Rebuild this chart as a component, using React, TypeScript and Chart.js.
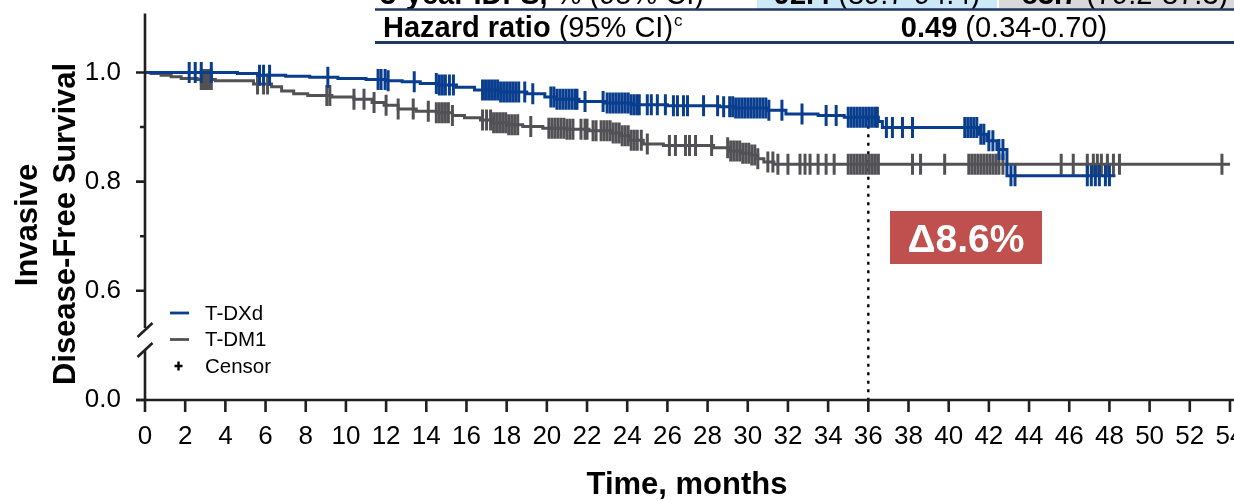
import React, { useEffect, useRef } from "react";
import { Chart, registerables } from "chart.js";

Chart.register(...registerables);

const FONT = "'Liberation Sans', Arial, Helvetica, sans-serif";
const BLUE = "#093d8d";
const GRAY = "#525256";
const AXIS = "#231f20";
const RED = "#c0504d";
const NAVY = "#1f3864";

// ---- data ----
const xTicks = [0, 2, 4, 6, 8, 10, 12, 14, 16, 18, 20, 22, 24, 26, 28, 30, 32, 34, 36, 38, 40, 42, 44, 46, 48, 50, 52, 54];
const yMajorTicks = [0.0, 0.6, 0.8, 1.0];
const yMinorTicks = [0.7, 0.9];

const tdxdTimes = [0, 4.6, 5.6, 7.0, 8.2, 9.6, 11.0, 12.0, 12.8, 13.7, 14.6, 15.5, 16.4, 17.6, 19.0, 19.9, 20.4, 21.6, 22.9, 24.2, 26.0, 28.6, 29.4, 31.0, 31.9, 33.5, 34.8, 36.5, 36.7, 41.5, 41.9, 42.4, 42.9, 48.3];
const tdxdSurv = [1.0, 0.998, 0.995, 0.993, 0.991, 0.989, 0.987, 0.985, 0.983, 0.98, 0.977, 0.973, 0.968, 0.964, 0.961, 0.955, 0.951, 0.947, 0.944, 0.941, 0.939, 0.937, 0.935, 0.931, 0.924, 0.921, 0.918, 0.91, 0.899, 0.887, 0.875, 0.859, 0.811, 0.811];

const tdm1Times = [0, 0.3, 0.8, 1.3, 1.8, 2.6, 3.5, 5.4, 6.3, 6.8, 7.4, 8.1, 9.3, 10.4, 11.3, 11.9, 12.6, 13.5, 14.5, 15.3, 15.9, 16.7, 17.3, 18.0, 18.8, 19.8, 21.0, 22.1, 23.2, 23.7, 24.1, 24.8, 25.8, 28.3, 29.1, 29.7, 30.1, 30.5, 30.8, 31.3, 54.0];
const tdm1Surv = [1.0, 0.998, 0.995, 0.992, 0.989, 0.987, 0.985, 0.979, 0.974, 0.966, 0.961, 0.958, 0.955, 0.951, 0.945, 0.94, 0.933, 0.929, 0.926, 0.921, 0.917, 0.913, 0.908, 0.904, 0.901, 0.898, 0.896, 0.893, 0.889, 0.884, 0.876, 0.869, 0.866, 0.862, 0.856, 0.852, 0.849, 0.842, 0.836, 0.832, 0.832];

const tdxdCensorTimes = [2.2, 2.5, 2.8, 3.3, 5.7, 5.9, 6.2, 9.1, 11.6, 11.75, 11.95, 12.1, 13.4, 14.5, 14.65, 14.8, 14.95, 15.15, 15.35, 16.8, 16.95, 17.1, 17.25, 17.4, 17.55, 17.7, 17.85, 18.0, 18.15, 18.3, 18.45, 18.6, 18.9, 19.3, 20.2, 20.35, 20.5, 20.65, 20.8, 20.95, 21.1, 21.25, 21.4, 21.5, 21.9, 22.8, 23.0, 23.15, 23.3, 23.45, 23.6, 23.75, 23.9, 24.05, 24.2, 24.35, 24.5, 24.6, 25.0, 25.2, 25.5, 25.9, 26.3, 26.5, 26.8, 27.0, 27.8, 28.5, 28.8, 29.1, 29.25, 29.4, 29.55, 29.7, 29.85, 30.0, 30.15, 30.3, 30.45, 30.6, 30.75, 30.9, 31.05, 31.7, 32.7, 33.9, 34.4, 35.0, 35.15, 35.3, 35.45, 35.6, 35.75, 35.9, 36.05, 36.2, 36.35, 36.45, 36.9, 37.2, 37.7, 38.2, 40.8, 40.95, 41.1, 41.25, 41.4, 41.6, 41.75, 42.0, 42.2, 42.5, 42.7, 43.1, 43.3, 46.9, 47.1, 47.3, 47.5, 47.8, 48.0];

const tdm1CensorTimes = [2.8, 2.9, 3.0, 3.1, 3.2, 3.3, 5.6, 5.9, 6.1, 9.05, 9.2, 10.4, 10.9, 11.4, 12.0, 12.6, 13.35, 14.1, 14.5, 14.65, 14.8, 14.95, 15.1, 15.3, 16.8, 17.0, 17.2, 17.35, 17.5, 17.65, 17.8, 17.95, 18.1, 18.25, 18.4, 18.55, 19.2, 20.1, 20.25, 20.4, 20.55, 20.7, 20.85, 21.0, 21.15, 21.3, 21.7, 21.9, 22.0, 22.3, 22.45, 22.7, 22.85, 23.0, 23.15, 23.3, 23.45, 23.6, 23.75, 23.9, 24.05, 24.2, 24.35, 24.5, 24.7, 25.0, 26.1, 26.4, 26.9, 27.1, 27.4, 28.2, 29.0, 29.15, 29.3, 29.45, 29.6, 29.75, 29.9, 30.05, 30.2, 30.35, 30.5, 31.0, 31.25, 31.5, 32.0, 32.6, 32.85, 33.1, 33.5, 33.9, 34.3, 35.0, 35.15, 35.3, 35.45, 35.6, 35.75, 35.9, 36.05, 36.2, 36.35, 36.5, 38.2, 38.6, 39.8, 41.0, 41.15, 41.3, 41.45, 41.6, 41.75, 41.9, 42.05, 42.2, 42.35, 42.5, 42.7, 45.6, 46.2, 46.9, 47.2, 47.4, 47.6, 47.9, 48.2, 48.5, 53.6];

const landmarkMonth = 36;
const deltaLabel = "\u03948.6%";
const seriesNames = ["T-DXd", "T-DM1"];
const censorName = "Censor";
const xTitle = "Time, months";
const yTitleLines = ["Invasive", "Disease-Free Survival"];
const tableRow1 = { boldLabel: "3-year IDFS,", label: " % (95% CI)", v1: ["92.4", " (89.7-94.4)"], v2: ["83.7", " (79.2-87.3)"] };
const tableRow2 = { boldLabel: "Hazard ratio", label: " (95% CI)", sup: "c", value: ["0.49", " (0.34-0.70)"] };

// ---- helpers ----
const X_MAX = 54.3;
const Y_MIN = 0.4;
const Y_MAX = 1.108;
const toAxis = (v: number) => (v < 0.5 ? v + 0.4 : v);

function survAt(times: number[], surv: number[], t: number) {
  let s = surv[0];
  for (let i = 0; i < times.length; i++) {
    if (times[i] <= t) s = surv[i];
    else break;
  }
  return s;
}

const curvePoints = (times: number[], surv: number[]) => times.map((t, i) => ({ x: t, y: toAxis(surv[i]) }));
const censorPoints = (ct: number[], times: number[], surv: number[]) =>
  ct.map((t) => ({ x: t, y: toAxis(survAt(times, surv, t)) }));

const zeroPad = (s: any) => {
  s.paddingTop = 0;
  s.paddingBottom = 0;
  s.paddingLeft = 0;
  s.paddingRight = 0;
};

const decorPlugin = {
  id: "decor",
  beforeDatasetsDraw(chart: any) {
    const { ctx, scales } = chart;
    const xs = scales.x, ys = scales.y;
    const x = xs.getPixelForValue(landmarkMonth);
    const yTop = ys.getPixelForValue(toAxis(survAt(tdxdTimes, tdxdSurv, landmarkMonth)));
    ctx.save();
    ctx.strokeStyle = "#000";
    ctx.lineWidth = 2.4;
    ctx.setLineDash([3, 5.5]);
    ctx.beginPath();
    ctx.moveTo(x, yTop);
    ctx.lineTo(x, ys.bottom);
    ctx.stroke();
    ctx.restore();
  },
  afterDraw(chart: any) {
    const { ctx, scales, chartArea } = chart;
    const xs = scales.x, ys = scales.y;
    const left = chartArea.left, bottom = chartArea.bottom, top = chartArea.top;
    ctx.save();
    ctx.strokeStyle = AXIS;
    ctx.lineWidth = 2.6;
    ctx.lineCap = "butt";
    // y axis with break
    const breakTop = 328, breakBottom = 350;
    ctx.beginPath();
    ctx.moveTo(left, top);
    ctx.lineTo(left, breakTop);
    ctx.moveTo(left, breakBottom);
    ctx.lineTo(left, bottom);
    ctx.stroke();
    // break slashes
    ctx.beginPath();
    ctx.moveTo(left - 7.5, breakTop + 9);
    ctx.lineTo(left + 7.5, breakTop - 5);
    ctx.moveTo(left - 7.5, breakBottom + 7);
    ctx.lineTo(left + 7.5, breakBottom - 7);
    ctx.stroke();
    // x axis
    ctx.beginPath();
    ctx.moveTo(left - 9, bottom);
    ctx.lineTo(chart.width, bottom);
    ctx.stroke();
    // y ticks
    ctx.beginPath();
    yMajorTicks.forEach((v) => {
      const y = ys.getPixelForValue(toAxis(v));
      ctx.moveTo(left - 9, y);
      ctx.lineTo(left, y);
    });
    yMinorTicks.forEach((v) => {
      const y = ys.getPixelForValue(toAxis(v));
      ctx.moveTo(left - 5, y);
      ctx.lineTo(left, y);
    });
    // x ticks
    xTicks.forEach((v) => {
      const x = xs.getPixelForValue(v);
      ctx.moveTo(x, bottom);
      ctx.lineTo(x, bottom + 12);
    });
    ctx.stroke();

    // axis titles
    ctx.fillStyle = "#000";
    ctx.font = `bold 31px ${FONT}`;
    ctx.textAlign = "center";
    ctx.textBaseline = "alphabetic";
    ctx.fillText(xTitle, 687, 494);
    ctx.save();
    ctx.translate(37, 225);
    ctx.rotate(-Math.PI / 2);
    ctx.fillText(yTitleLines[0], 0, 0);
    ctx.restore();
    ctx.save();
    ctx.translate(75, 224);
    ctx.rotate(-Math.PI / 2);
    ctx.fillText(yTitleLines[1], 0, 0);
    ctx.restore();

    // legend
    ctx.font = `20.5px ${FONT}`;
    ctx.textAlign = "left";
    ctx.textBaseline = "middle";
    ctx.lineWidth = 2.8;
    [BLUE, GRAY].forEach((c, i) => {
      const y = 313 + i * 26.5;
      ctx.strokeStyle = c;
      ctx.beginPath();
      ctx.moveTo(170, y);
      ctx.lineTo(189, y);
      ctx.stroke();
      ctx.fillStyle = "#000";
      ctx.fillText(seriesNames[i], 205, y + 1);
    });
    ctx.strokeStyle = "#000";
    ctx.lineWidth = 2.4;
    ctx.beginPath();
    ctx.moveTo(178.5, 361.5);
    ctx.lineTo(178.5, 370.5);
    ctx.moveTo(174.5, 366);
    ctx.lineTo(182.5, 366);
    ctx.stroke();
    ctx.fillText(censorName, 205, 367);

    // delta box
    ctx.fillStyle = RED;
    ctx.fillRect(890, 211, 152, 53);
    ctx.fillStyle = "#fff";
    ctx.font = `bold 39px ${FONT}`;
    ctx.textAlign = "center";
    ctx.textBaseline = "alphabetic";
    ctx.fillText(deltaLabel, 966, 252);

    // table (cropped at top)
    ctx.fillStyle = "#cde8f6";
    ctx.fillRect(757, 0, 240, 9);
    ctx.fillStyle = "#d9d9d9";
    ctx.fillRect(999, 0, 260, 9);
    const drawRich = (parts: [string, boolean, number][], x: number, y: number, align: string) => {
      let total = 0;
      parts.forEach(([t, b, s]) => {
        ctx.font = `${b ? "bold " : ""}${s}px ${FONT}`;
        total += ctx.measureText(t).width;
      });
      let cx = align === "center" ? x - total / 2 : x;
      ctx.textAlign = "left";
      parts.forEach(([t, b, s]) => {
        ctx.font = `${b ? "bold " : ""}${s}px ${FONT}`;
        ctx.fillText(t, cx, y);
        cx += ctx.measureText(t).width;
      });
      return cx;
    };
    ctx.fillStyle = "#000";
    ctx.textBaseline = "alphabetic";
    drawRich([[tableRow1.boldLabel, true, 29], [tableRow1.label, false, 29]], 380, 4, "left");
    drawRich([[tableRow1.v1[0], true, 29], [tableRow1.v1[1], false, 29]], 877, 4, "center");
    drawRich([[tableRow1.v2[0], true, 29], [tableRow1.v2[1], false, 29]], 1125, 4, "center");
    ctx.strokeStyle = NAVY;
    ctx.lineWidth = 2.4;
    ctx.beginPath();
    ctx.moveTo(375, 9.5);
    ctx.lineTo(chart.width, 9.5);
    ctx.stroke();
    const endX = drawRich([[tableRow2.boldLabel, true, 29], [tableRow2.label, false, 29]], 383, 37, "left");
    ctx.font = `17px ${FONT}`;
    ctx.fillText(tableRow2.sup, endX + 1, 26);
    drawRich([[tableRow2.value[0], true, 29], [tableRow2.value[1], false, 29]], 1004, 37, "center");
    ctx.lineWidth = 3;
    ctx.beginPath();
    ctx.moveTo(375, 42.5);
    ctx.lineTo(chart.width, 42.5);
    ctx.stroke();
    ctx.restore();
  },
};

export default function App() {
  const ref = useRef<HTMLCanvasElement | null>(null);
  useEffect(() => {
    if (!ref.current) return;
    const chart = new Chart(ref.current, {
      type: "line",
      data: {
        datasets: [
          {
            label: seriesNames[0],
            data: curvePoints(tdxdTimes, tdxdSurv),
            stepped: true,
            borderColor: BLUE,
            borderWidth: 3,
            pointRadius: 0,
            fill: false,
          },
          {
            label: seriesNames[0] + " censor",
            data: censorPoints(tdxdCensorTimes, tdxdTimes, tdxdSurv),
            showLine: false,
            pointStyle: "line",
            rotation: 90,
            pointRadius: 10.5,
            borderColor: BLUE,
            pointBorderColor: BLUE,
            pointBorderWidth: 3,
            borderWidth: 3,
          },
          {
            label: seriesNames[1],
            data: curvePoints(tdm1Times, tdm1Surv),
            stepped: true,
            borderColor: GRAY,
            borderWidth: 3,
            pointRadius: 0,
            fill: false,
          },
          {
            label: seriesNames[1] + " censor",
            data: censorPoints(tdm1CensorTimes, tdm1Times, tdm1Surv),
            showLine: false,
            pointStyle: "line",
            rotation: 90,
            pointRadius: 10.5,
            borderColor: GRAY,
            pointBorderColor: GRAY,
            pointBorderWidth: 3,
            borderWidth: 3,
          },
        ],
      } as any,
      options: {
        animation: false,
        responsive: false,
        devicePixelRatio: 1,
        events: [],
        layout: { padding: { top: 7, right: 14, left: 0, bottom: 0 } },
        plugins: { legend: { display: false }, tooltip: { enabled: false }, title: { display: false } },
        scales: {
          x: {
            type: "linear",
            min: 0,
            max: X_MAX,
            afterBuildTicks: (s: any) => {
              s.ticks = xTicks.map((v) => ({ value: v }));
            },
            afterFit: (s: any) => {
              s.height = 101;
              zeroPad(s);
            },
            ticks: {
              autoSkip: false,
              maxRotation: 0,
              padding: 21,
              color: "#000",
              font: { family: FONT, size: 26 },
              callback: (v: any) => String(v),
            },
            grid: { display: false, drawTicks: false },
            border: { display: false },
          },
          y: {
            type: "linear",
            min: Y_MIN,
            max: Y_MAX,
            afterBuildTicks: (s: any) => {
              s.ticks = [...yMajorTicks, ...yMinorTicks].map((v) => ({ value: toAxis(v) }));
            },
            afterFit: (s: any) => {
              s.width = 145;
              zeroPad(s);
            },
            ticks: {
              autoSkip: false,
              padding: 24,
              color: "#000",
              font: { family: FONT, size: 26 },
              callback: (val: any) => {
                const m = yMajorTicks.find((v) => Math.abs(toAxis(v) - val) < 1e-6);
                return m === undefined ? "" : m.toFixed(1);
              },
            },
            grid: { display: false, drawTicks: false },
            border: { display: false },
          },
        },
      } as any,
      plugins: [decorPlugin],
    });
    return () => chart.destroy();
  }, []);
  return (
    <div style={{ position: "fixed", left: 0, top: 0, width: 1234, height: 501, overflow: "hidden", background: "#fff" }}>
      <canvas ref={ref} width={1250} height={501} style={{ display: "block", width: 1250, height: 501 }} />
    </div>
  );
}
